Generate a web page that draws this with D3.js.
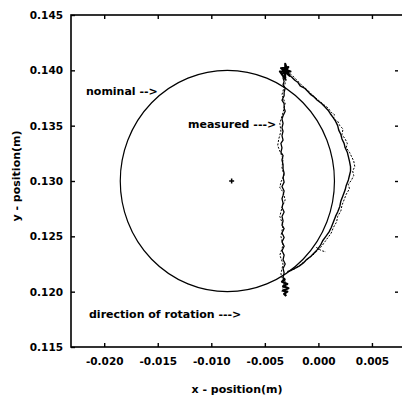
<!DOCTYPE html>
<html>
<head>
<meta charset="utf-8">
<script src="https://cdn.jsdelivr.net/npm/d3@7"></script>
<style>
  html, body { margin: 0; padding: 0; background: #fff; }
  svg text { font-family: "DejaVu Sans", Verdana, sans-serif; font-weight: bold; fill: #000; }
</style>
</head>
<body>
<script>
// Axis ticks
const xTicks = [-0.020, -0.015, -0.010, -0.005, 0.000, 0.005];
const xTickLabels = ["-0.020", "-0.015", "-0.010", "-0.005", "0.000", "0.005"];
const yTicks = [0.115, 0.120, 0.125, 0.130, 0.135, 0.140, 0.145];
const yTickLabels = ["0.115", "0.120", "0.125", "0.130", "0.135", "0.140", "0.145"];

// Nominal circle: centre and radius (m)
const nominalCenter = [-0.0085, 0.130];
const nominalRadius = 0.0100;
const centerMark = [-0.0081, 0.130];

// Measured traces [x, y] in m
const measuredVertical = [
  [-0.0030,0.1402],[-0.0032,0.1399],[-0.0031,0.1397],[-0.0033,0.1393],[-0.0032,0.1390],[-0.0033,0.1387],
  [-0.0031,0.1384],[-0.0032,0.1380],[-0.0032,0.1377],[-0.0034,0.1373],[-0.0032,0.1370],[-0.0032,0.1366],
  [-0.0031,0.1363],[-0.0033,0.1359],[-0.0034,0.1356],[-0.0033,0.1352],[-0.0034,0.1348],[-0.0033,0.1345],
  [-0.0034,0.1341],[-0.0033,0.1337],[-0.0035,0.1334],[-0.0034,0.1330],[-0.0035,0.1326],[-0.0033,0.1323],
  [-0.0034,0.1319],[-0.0033,0.1315],[-0.0033,0.1311],[-0.0032,0.1307],[-0.0033,0.1303],[-0.0032,0.1299],
  [-0.0034,0.1295],[-0.0032,0.1291],[-0.0033,0.1287],[-0.0034,0.1284],[-0.0033,0.1280],[-0.0034,0.1276],
  [-0.0032,0.1272],[-0.0034,0.1268],[-0.0033,0.1264],[-0.0034,0.1260],[-0.0032,0.1257],[-0.0034,0.1253],
  [-0.0032,0.1249],[-0.0034,0.1245],[-0.0032,0.1241],[-0.0034,0.1237],[-0.0032,0.1233],[-0.0033,0.1229],
  [-0.0031,0.1225],[-0.0033,0.1221],[-0.0032,0.1217],[-0.0033,0.1213],[-0.0031,0.1209]
];
const measuredVerticalDashed = [
  [-0.0032,0.1398],[-0.0030,0.1392],[-0.0032,0.1385],[-0.0034,0.1378],[-0.0031,0.1370],[-0.0033,0.1362],
  [-0.0036,0.1352],[-0.0035,0.1345],[-0.0037,0.1338],[-0.0038,0.1332],[-0.0036,0.1327],[-0.0033,0.1320],
  [-0.0034,0.1312],[-0.0032,0.1305],[-0.0035,0.1299],[-0.0036,0.1294],[-0.0033,0.1290],[-0.0031,0.1283],
  [-0.0034,0.1276],[-0.0036,0.1268],[-0.0033,0.1260],[-0.0035,0.1250],[-0.0033,0.1242],[-0.0036,0.1233],
  [-0.0033,0.1225],[-0.0035,0.1216],[-0.0032,0.1207],[-0.0034,0.1200]
];
const measuredArc = [
  [-0.0031,0.1400],[-0.0028,0.1396],[-0.0025,0.1394],[-0.0022,0.1391],[-0.0019,0.1389],[-0.0017,0.1386],
  [-0.0013,0.1384],[-0.0010,0.1381],[-0.0007,0.1378],[-0.0004,0.1376],[-0.0001,0.1373],[0.0003,0.1370],
  [0.0006,0.1367],[0.0009,0.1364],[0.0011,0.1361],[0.0014,0.1357],[0.0016,0.1354],[0.0018,0.1350],
  [0.0019,0.1346],[0.0021,0.1342],[0.0022,0.1338],[0.0024,0.1334],[0.0025,0.1330],[0.0027,0.1326],
  [0.0028,0.1322],[0.0029,0.1318],[0.0030,0.1313],[0.0030,0.1309],[0.0029,0.1305],[0.0028,0.1301],
  [0.0026,0.1296],[0.0025,0.1292],[0.0023,0.1287],[0.0021,0.1282],[0.0020,0.1277],[0.0018,0.1272],
  [0.0016,0.1268],[0.0014,0.1263],[0.0012,0.1258],[0.0010,0.1254],[0.0007,0.1250],[0.0004,0.1246],
  [0.0002,0.1242],[-0.0001,0.1238],[-0.0004,0.1235],[-0.0007,0.1232],[-0.0011,0.1229],[-0.0014,0.1226],
  [-0.0018,0.1223],[-0.0022,0.1221],[-0.0026,0.1219],[-0.0029,0.1218]
];
const measuredArcDashed = [
  [-0.0029,0.1399],[-0.0024,0.1395],[-0.0020,0.1391],[-0.0015,0.1386],[-0.0010,0.1382],[-0.0005,0.1377],
  [0.0000,0.1373],[0.0005,0.1369],[0.0009,0.1366],[0.0012,0.1362],[0.0015,0.1360],[0.0014,0.1356],
  [0.0018,0.1354],[0.0020,0.1350],[0.0023,0.1347],[0.0022,0.1342],[0.0025,0.1338],[0.0027,0.1334],
  [0.0026,0.1330],[0.0029,0.1326],[0.0031,0.1322],[0.0033,0.1318],[0.0034,0.1313],[0.0032,0.1309],
  [0.0033,0.1305],[0.0031,0.1301],[0.0028,0.1297],[0.0029,0.1293],[0.0026,0.1288],[0.0024,0.1283],
  [0.0022,0.1278],[0.0021,0.1273],[0.0018,0.1268],[0.0017,0.1263],[0.0014,0.1258],[0.0012,0.1253],
  [0.0009,0.1249],[0.0006,0.1245],[0.0003,0.1241],[0.0000,0.1238],[-0.0004,0.1234],[-0.0008,0.1231],
  [-0.0012,0.1228],[-0.0016,0.1225],[-0.0020,0.1222],[-0.0025,0.1219]
];
const arcTail = [[-0.0002,0.1240],[0.0003,0.1237],[0.0007,0.1236]];
const topBlob = [
  [-0.0034,0.1396],[-0.0028,0.1403],[-0.0035,0.1402],[-0.0027,0.1395],[-0.0031,0.1406],
  [-0.0031,0.1392],[-0.0036,0.1399],[-0.0026,0.1399],[-0.0032,0.1401],[-0.0029,0.1397]
];
const bottomBlob = [
  [-0.0031,0.1212],[-0.0034,0.1209],[-0.0029,0.1207],[-0.0033,0.1205],[-0.0028,0.1203],
  [-0.0033,0.1201],[-0.0029,0.1200],[-0.0032,0.1198],[-0.0030,0.1196]
];

const width = 402, height = 397;
const margin = { top: 15, right: -1, bottom: 50, left: 71 };

const x = d3.scaleLinear().domain([-0.0231, 0.0079]).range([margin.left, width - margin.right]);
const y = d3.scaleLinear().domain([0.115, 0.145]).range([height - margin.bottom, margin.top]);

const svg = d3.select("body").append("svg")
  .attr("width", width)
  .attr("height", height);

// Frame
svg.append("rect")
  .attr("x", x.range()[0]).attr("y", y.range()[1])
  .attr("width", x.range()[1] - x.range()[0])
  .attr("height", y.range()[0] - y.range()[1])
  .attr("fill", "none").attr("stroke", "#000").attr("stroke-width", 1.6);

const fmtX = d => xTickLabels[xTicks.indexOf(d)];
const fmtY = d => yTickLabels[yTicks.indexOf(d)];

const styleAxis = g => {
  g.select(".domain").remove();
  g.selectAll(".tick line").attr("stroke", "#000").attr("stroke-width", 1.4);
  g.selectAll(".tick text").attr("font-size", 10.5).attr("font-family", null);
};

svg.append("g").attr("transform", `translate(0,${y.range()[0]})`)
  .call(d3.axisBottom(x).tickValues(xTicks).tickFormat(fmtX).tickSize(-4).tickPadding(11))
  .call(styleAxis);
svg.append("g").attr("transform", `translate(0,${y.range()[1]})`)
  .call(d3.axisTop(x).tickValues(xTicks).tickFormat("").tickSize(-4))
  .call(styleAxis);
svg.append("g").attr("transform", `translate(${x.range()[0]},0)`)
  .call(d3.axisLeft(y).tickValues(yTicks).tickFormat(fmtY).tickSize(-4).tickPadding(8))
  .call(styleAxis);
svg.append("g").attr("transform", `translate(${x.range()[1] - 5},0)`)
  .call(d3.axisRight(y).tickValues(yTicks.slice(1, -1)).tickFormat("").tickSize(-3))
  .call(styleAxis);

// Nominal circle
svg.append("ellipse")
  .attr("cx", x(nominalCenter[0]))
  .attr("cy", y(nominalCenter[1]))
  .attr("rx", x(nominalCenter[0] + nominalRadius) - x(nominalCenter[0]))
  .attr("ry", y(nominalCenter[1]) - y(nominalCenter[1] + nominalRadius))
  .attr("fill", "none").attr("stroke", "#000").attr("stroke-width", 1.2);

// Centre mark
const cmx = x(centerMark[0]), cmy = y(centerMark[1]);
svg.append("path")
  .attr("d", `M${cmx - 2.5},${cmy}H${cmx + 2.5}M${cmx},${cmy - 2.5}V${cmy + 2.5}`)
  .attr("stroke", "#000").attr("stroke-width", 1.5);

// Measured traces
const line = d3.line().x(d => x(d[0])).y(d => y(d[1]));
const trace = (data, w, dash) => svg.append("path")
  .datum(data)
  .attr("d", line)
  .attr("fill", "none")
  .attr("stroke", "#000")
  .attr("stroke-width", w)
  .attr("stroke-linejoin", "round")
  .attr("stroke-dasharray", dash);

trace(measuredVerticalDashed, 1, "2,1.5");
trace(measuredArcDashed, 1, "2,1.5");
trace(arcTail, 1, "2,1.5");
trace(measuredVertical, 1.3, null);
trace(measuredArc, 1.4, null);
trace(topBlob, 2, null);
trace(bottomBlob, 2.2, null);

// Annotations
const labels = [
  { text: "nominal -->", x: 86, y: 95 },
  { text: "measured --->", x: 188, y: 128 },
  { text: "direction of rotation --->", x: 89, y: 318 }
];
svg.selectAll(".ann").data(labels).join("text")
  .attr("class", "ann")
  .attr("x", d => d.x).attr("y", d => d.y)
  .attr("font-size", 11)
  .text(d => d.text);

// Axis titles
svg.append("text")
  .attr("x", 237).attr("y", 393)
  .attr("text-anchor", "middle").attr("font-size", 11)
  .text("x - position(m)");
svg.append("text")
  .attr("transform", `translate(20,176) rotate(-90)`)
  .attr("text-anchor", "middle").attr("font-size", 11)
  .text("y - position(m)");
</script>
</body>
</html>
